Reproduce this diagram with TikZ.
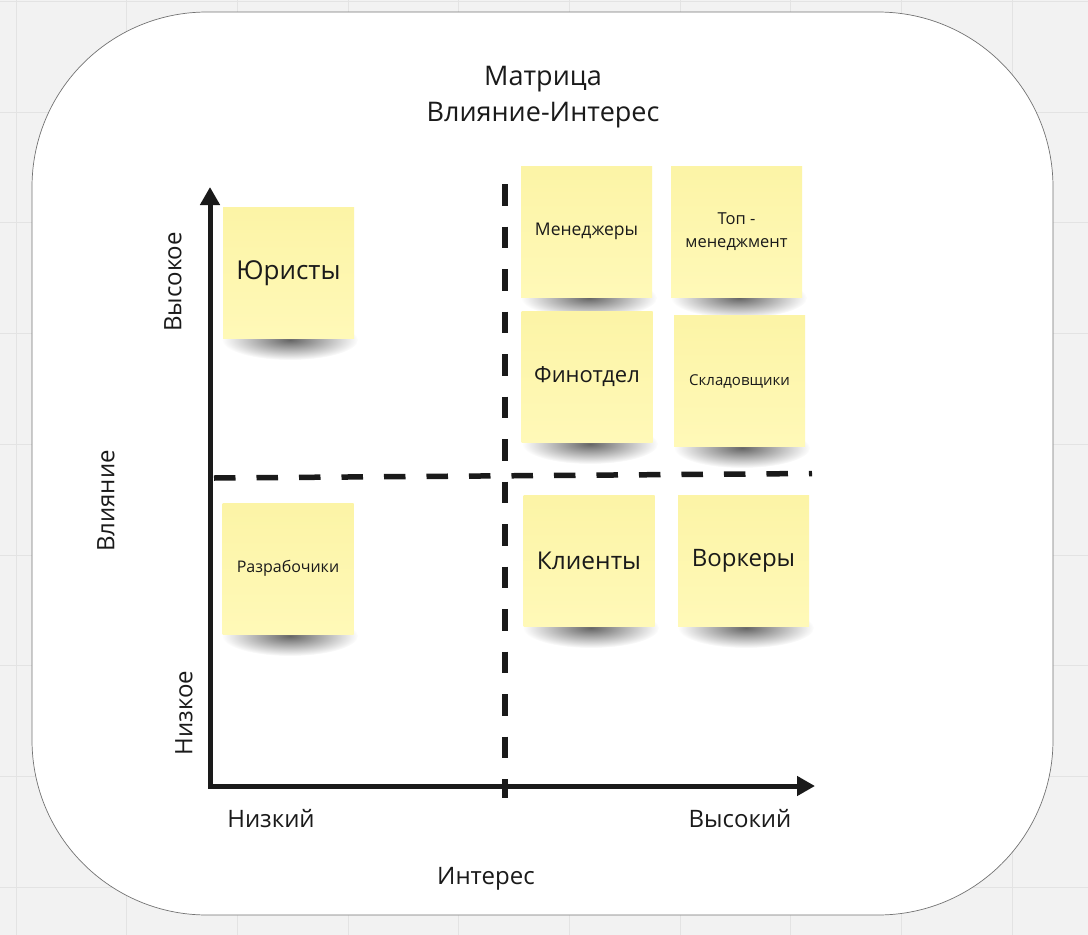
\documentclass[tikz,border=0pt]{standalone}
\usepackage{fontspec}
\setmainfont{Open Sans}
\usetikzlibrary{arrows.meta,fadings}
\definecolor{bgc}{HTML}{F2F2F2}
\definecolor{gridc}{HTML}{E3E3E3}
\definecolor{ink}{HTML}{1A1A1A}
\definecolor{stickytop}{HTML}{FCF4A6}
\definecolor{stickybot}{HTML}{FFF9B8}
\tikzfading[name=shfade, inner color=transparent!40, outer color=transparent!100]
\tikzset{
  fs/.style={font=\fontsize{#1pt}{\dimexpr #1pt*27/20\relax}\selectfont},
  lbl/.style={text=ink, inner sep=0pt},
  sticky/.style={rectangle, inner sep=2pt, align=center, text=ink,
    top color=stickytop, bottom color=stickybot,
    minimum width=131pt, minimum height=131pt},
  axisline/.style={draw=ink, line width=5pt, line join=miter},
  divider/.style={draw=ink, line width=5.5pt, dash pattern=on 21.5pt off 21pt},
  frame/.style={fill=white, draw=black!55, line width=0.7pt, rounded corners=175pt},
  shadowblob/.style={fill=black, path fading=shfade},
}
\newcommand{\stickyshadow}[2]{% center x, bottom y
  \fill[shadowblob] (#1,#2+1) ellipse [x radius=68, y radius=20];
}
\begin{document}
\begin{tikzpicture}[x=1pt, y=-1pt]
\useasboundingbox (0,0) rectangle (1088,935);
\fill[bgc] (0,0) rectangle (1088,935);
\foreach \k in {0,...,9}{\draw[gridc, line width=1pt] ({16+110.7*\k},0) -- ({16+110.7*\k},935);}
\foreach \k in {0,...,8}{\draw[gridc, line width=1pt] (0,{1.5+110.7*\k}) -- (1088,{1.5+110.7*\k});}
\draw[frame] (32,12) rectangle (1053,915);

% title
\node[lbl, fs=27, align=center] (title) at (543,97) {Матрица\\Влияние-Интерес};

% shadows
\stickyshadow{290}{339}
\stickyshadow{589}{297}
\stickyshadow{739}{297}
\stickyshadow{590}{443}
\stickyshadow{742}{447}
\stickyshadow{290}{635}
\stickyshadow{591}{627}
\stickyshadow{746}{627}

% axes and dividers
\coordinate (ytip) at (210,187);
\coordinate (corner) at (210,786);
\coordinate (xtip) at (815,786);
\draw[axisline, {Triangle[length=18pt,width=19pt]}-{Triangle[length=18pt,width=19pt]}] (ytip) -- (corner) -- (xtip);
\coordinate (vtop) at (505,184);
\coordinate (vbot) at (505,798);
\draw[divider] (vtop) -- (vbot);
\coordinate (hleft) at (214,478);
\coordinate (hright) at (812,473.5);
\draw[divider] (hleft) -- (hright);

% stickies
\node[sticky, fs=26] (jur) at (288.5,273) {Юристы};
\node[sticky, fs=17.5] (man) at (586.5,231.5) {Менеджеры};
\node[sticky, fs=16.5] (top) at (736.5,231.5) {Топ -\\менеджмент};
\node[sticky, fs=22] (fin) at (587,377) {Финотдел};
\node[sticky, fs=15] (skl) at (739.5,381) {Складовщики};
\node[sticky, fs=16] (dev) at (288,568.5) {Разрабочики};
\node[sticky, fs=24.5] (cli) at (589,560.5) {Клиенты};
\node[sticky, fs=24] (wrk) at (743.5,560.5) {Воркеры};

% axis labels
\node[lbl, fs=24, rotate=90] (high) at (173,282) {Высокое};
\node[lbl, fs=24, rotate=90] (infl) at (106,501) {Влияние};
\node[lbl, fs=24, rotate=90] (low) at (184,713) {Низкое};
\node[lbl, fs=24] (xlow) at (271,819) {Низкий};
\node[lbl, fs=24] (xhigh) at (740,819) {Высокий};
\node[lbl, fs=24] (intr) at (486,879) {Интерес};
\end{tikzpicture}
\end{document}
